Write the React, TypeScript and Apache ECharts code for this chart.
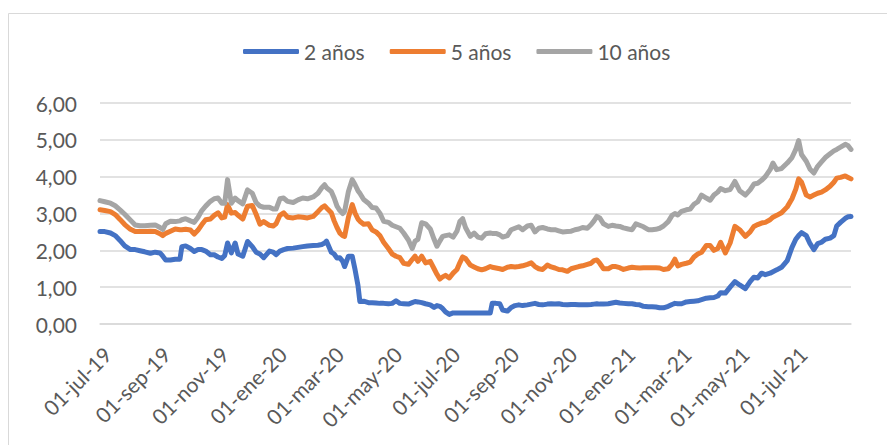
import React, { useEffect, useRef } from "react";
import * as echarts from "echarts";

// Series names
const seriesNames = ["2 años", "5 años", "10 años"];
const seriesColors = ["#4472C4", "#ED7D31", "#A5A5A5"];

// Axis range: daily dates from 01-jul-19, 790 days
const startDate = "2019-07-01";
const dayCount = 790;
const monthNames = ["ene", "feb", "mar", "abr", "may", "jun", "jul", "ago", "sep", "oct", "nov", "dic"];

// Y axis ticks
const yMin = 0;
const yMax = 6;
const yStep = 1;

// Sample positions (days since 01-jul-19)
const dayIndex = [
  0, 5, 11, 16, 21, 26, 32, 37, 42, 47, 53, 58, 63, 66, 69, 74, 79, 84, 86, 90,
  95, 99, 103, 107, 111, 116, 120, 124, 128, 131, 134, 138, 142, 145, 150, 155, 160, 164, 168, 172,
  178, 182, 185, 189, 193, 197, 203, 208, 213, 218, 224, 229, 233, 236, 238, 243, 246, 249, 252, 255,
  257, 261, 265, 268, 271, 273, 277, 282, 286, 290, 294, 298, 303, 307, 311, 315, 319, 324, 328, 331,
  334, 338, 342, 347, 351, 354, 357, 360, 363, 367, 371, 375, 378, 381, 384, 389, 393, 397, 401, 405,
  410, 412, 416, 420, 423, 428, 432, 436, 440, 444, 449, 453, 457, 461, 465, 470, 474, 478, 482, 486,
  491, 495, 499, 503, 507, 512, 516, 519, 522, 525, 529, 534, 538, 542, 546, 550, 555, 559, 563, 567,
  571, 576, 580, 584, 588, 592, 597, 601, 604, 607, 611, 616, 620, 624, 628, 632, 637, 641, 645, 649,
  652, 657, 662, 667, 672, 678, 683, 687, 691, 695, 699, 704, 707, 711, 716, 722, 727, 731, 734, 737,
  742, 746, 750, 754, 758, 762, 767, 771, 774, 778, 783, 786, 789,
];

const y2 = [
  2.51, 2.51, 2.47, 2.40, 2.27, 2.12, 2.02, 2.02, 1.99, 1.96, 1.92, 1.95, 1.93, 1.84, 1.74, 1.74, 1.76, 1.76, 2.10, 2.12,
  2.05, 1.97, 2.02, 2.02, 1.98, 1.88, 1.88, 1.82, 1.78, 1.86, 2.20, 1.93, 2.20, 1.90, 1.84, 2.24, 2.10, 1.95, 1.90, 1.80,
  1.98, 1.95, 1.88, 1.98, 2.02, 2.05, 2.06, 2.08, 2.10, 2.12, 2.13, 2.14, 2.16, 2.20, 2.25, 1.95, 1.90, 1.79, 1.80, 1.70,
  1.56, 1.84, 1.84, 1.47, 1.05, 0.61, 0.62, 0.58, 0.58, 0.57, 0.56, 0.56, 0.55, 0.56, 0.63, 0.56, 0.55, 0.54, 0.58, 0.61,
  0.60, 0.58, 0.55, 0.52, 0.45, 0.50, 0.48, 0.42, 0.33, 0.26, 0.30, 0.30, 0.30, 0.30, 0.30, 0.30, 0.30, 0.30, 0.30, 0.30,
  0.30, 0.56, 0.56, 0.55, 0.38, 0.35, 0.45, 0.50, 0.52, 0.50, 0.52, 0.54, 0.56, 0.53, 0.52, 0.54, 0.55, 0.54, 0.55, 0.53,
  0.52, 0.53, 0.53, 0.52, 0.52, 0.52, 0.53, 0.54, 0.55, 0.54, 0.54, 0.55, 0.57, 0.59, 0.57, 0.56, 0.55, 0.55, 0.53, 0.52,
  0.48, 0.47, 0.47, 0.46, 0.44, 0.44, 0.48, 0.53, 0.56, 0.55, 0.55, 0.60, 0.61, 0.62, 0.63, 0.66, 0.70, 0.71, 0.72, 0.76,
  0.85, 0.84, 1.00, 1.15, 1.06, 0.96, 1.15, 1.27, 1.25, 1.38, 1.34, 1.38, 1.42, 1.47, 1.54, 1.72, 2.08, 2.30, 2.40, 2.48,
  2.40, 2.18, 2.02, 2.18, 2.22, 2.30, 2.33, 2.40, 2.66, 2.76, 2.87, 2.91, 2.92,
];

const y5 = [
  3.10, 3.08, 3.05, 2.97, 2.84, 2.70, 2.57, 2.51, 2.51, 2.51, 2.52, 2.51, 2.45, 2.40, 2.46, 2.52, 2.58, 2.56, 2.56, 2.57,
  2.55, 2.44, 2.55, 2.70, 2.83, 2.85, 2.95, 3.02, 2.88, 2.90, 3.24, 3.01, 3.03, 2.95, 2.85, 3.20, 3.22, 2.98, 2.71, 2.78,
  2.68, 2.66, 2.72, 2.95, 3.02, 2.90, 2.88, 2.91, 2.90, 2.88, 2.92, 3.05, 3.16, 3.21, 3.15, 3.02, 2.80, 2.62, 2.47, 2.40,
  2.38, 2.90, 3.24, 3.01, 2.85, 2.79, 2.71, 2.72, 2.55, 2.50, 2.40, 2.22, 2.05, 1.90, 1.84, 1.80, 1.65, 1.62, 1.75, 1.84,
  1.70, 1.84, 1.66, 1.70, 1.50, 1.35, 1.22, 1.28, 1.32, 1.25, 1.38, 1.48, 1.66, 1.82, 1.78, 1.60, 1.55, 1.50, 1.47, 1.50,
  1.56, 1.54, 1.52, 1.50, 1.48, 1.54, 1.56, 1.55, 1.56, 1.58, 1.62, 1.66, 1.56, 1.50, 1.48, 1.60, 1.55, 1.52, 1.48, 1.47,
  1.43, 1.50, 1.53, 1.56, 1.58, 1.62, 1.65, 1.72, 1.74, 1.65, 1.50, 1.50, 1.56, 1.56, 1.53, 1.48, 1.52, 1.54, 1.53, 1.52,
  1.53, 1.53, 1.53, 1.53, 1.52, 1.48, 1.50, 1.62, 1.76, 1.58, 1.62, 1.65, 1.68, 1.82, 1.90, 1.95, 2.13, 2.13, 2.00, 2.05,
  2.22, 1.93, 2.20, 2.65, 2.56, 2.38, 2.50, 2.65, 2.70, 2.74, 2.76, 2.83, 2.90, 2.95, 3.02, 3.18, 3.40, 3.66, 3.94, 3.85,
  3.50, 3.45, 3.50, 3.55, 3.58, 3.64, 3.74, 3.85, 3.96, 3.98, 4.02, 3.98, 3.94,
];

const y10 = [
  3.35, 3.32, 3.28, 3.21, 3.10, 2.98, 2.82, 2.69, 2.67, 2.67, 2.68, 2.69, 2.62, 2.57, 2.72, 2.79, 2.78, 2.80, 2.83, 2.86,
  2.80, 2.76, 2.90, 3.08, 3.20, 3.33, 3.40, 3.42, 3.28, 3.28, 3.92, 3.28, 3.42, 3.35, 3.26, 3.64, 3.55, 3.30, 3.20, 3.17,
  3.17, 3.12, 3.12, 3.40, 3.42, 3.33, 3.30, 3.37, 3.42, 3.40, 3.45, 3.55, 3.70, 3.78, 3.70, 3.60, 3.42, 3.20, 3.08, 3.00,
  3.06, 3.60, 3.92, 3.78, 3.62, 3.55, 3.38, 3.28, 3.16, 3.15, 3.01, 2.79, 2.76, 2.68, 2.64, 2.60, 2.47, 2.28, 2.05, 2.25,
  2.30, 2.75, 2.72, 2.58, 2.30, 2.11, 2.25, 2.38, 2.40, 2.42, 2.36, 2.52, 2.78, 2.86, 2.62, 2.38, 2.47, 2.36, 2.33, 2.45,
  2.47, 2.46, 2.46, 2.42, 2.36, 2.40, 2.56, 2.60, 2.64, 2.56, 2.66, 2.68, 2.50, 2.60, 2.62, 2.58, 2.56, 2.56, 2.53, 2.50,
  2.51, 2.52, 2.56, 2.58, 2.62, 2.60, 2.70, 2.80, 2.92, 2.88, 2.72, 2.65, 2.68, 2.66, 2.65, 2.61, 2.58, 2.56, 2.72, 2.68,
  2.64, 2.56, 2.56, 2.57, 2.60, 2.66, 2.78, 2.95, 3.00, 2.96, 3.06, 3.10, 3.12, 3.25, 3.32, 3.50, 3.42, 3.36, 3.50, 3.58,
  3.68, 3.62, 3.65, 3.87, 3.62, 3.50, 3.64, 3.80, 3.82, 3.90, 4.00, 4.19, 4.37, 4.19, 4.22, 4.37, 4.52, 4.74, 4.98, 4.60,
  4.42, 4.20, 4.10, 4.28, 4.40, 4.52, 4.62, 4.70, 4.74, 4.80, 4.88, 4.84, 4.74,
];

const seriesValues = [y2, y5, y10];

function buildDates(): Date[] {
  const [yy, mm, dd] = startDate.split("-").map(Number);
  const base = Date.UTC(yy, mm - 1, dd);
  const out: Date[] = [];
  for (let i = 0; i < dayCount; i++) out.push(new Date(base + i * 86400000));
  return out;
}

function fmtDate(d: Date): string {
  const day = String(d.getUTCDate()).padStart(2, "0");
  const yr = String(d.getUTCFullYear() % 100).padStart(2, "0");
  return `${day}-${monthNames[d.getUTCMonth()]}-${yr}`;
}

export default function App() {
  const ref = useRef<HTMLDivElement>(null);

  useEffect(() => {
    document.body.style.margin = "0";
    if (!ref.current) return;
    const chart = echarts.init(ref.current, undefined, { renderer: "svg" });
    const dates = buildDates();
    const categories = dates.map(fmtDate);
    const textColor = "#595959";
    const font = "Lato, 'Open Sans', sans-serif";

    const option: any = {
      animation: false,
      backgroundColor: "#ffffff",
      textStyle: { fontFamily: font },
      graphic: [
        {
          type: "rect",
          silent: true,
          z: -10,
          shape: { x: 8.5, y: 13.5, width: 1000, height: 600 },
          style: { fill: "none", stroke: "#d9d9d9", lineWidth: 1 },
        },
      ],
      legend: {
        data: seriesNames,
        left: 243,
        top: 41,
        padding: 0,
        itemWidth: 56,
        itemHeight: 5,
        itemGap: 25,
        icon: "roundRect",
        textStyle: { fontSize: 21, color: textColor, fontFamily: font },
      },
      grid: { left: 100, right: 36, top: 103, bottom: 121 },
      xAxis: {
        type: "category",
        data: categories,
        boundaryGap: false,
        axisLine: { show: true, lineStyle: { color: "#d9d9d9", width: 1.5 } },
        axisTick: { show: false },
        splitLine: { show: false },
        axisLabel: {
          interval: (index: number) => {
            const d = dates[index];
            return d.getUTCDate() === 1 && d.getUTCMonth() % 2 === 0;
          },
          rotate: 45,
          margin: 19,
          verticalAlign: "top",
          fontSize: 21,
          color: textColor,
          fontFamily: font,
        },
      },
      yAxis: {
        type: "value",
        min: yMin,
        max: yMax,
        interval: yStep,
        axisLine: { show: false },
        axisTick: { show: false },
        axisLabel: {
          margin: 23,
          fontSize: 21,
          color: textColor,
          fontFamily: font,
          formatter: (v: number) => v.toFixed(2).replace(".", ","),
        },
        splitLine: { lineStyle: { color: "#d9d9d9", width: 1.5 } },
      },
      series: seriesNames.map((name, si) => ({
        name,
        type: "line",
        showSymbol: false,
        symbol: "none",
        color: seriesColors[si],
        lineStyle: { width: 5, color: seriesColors[si], cap: "round", join: "round" },
        data: dayIndex.map((d, i) => [d, seriesValues[si][i]]),
      })),
    };

    chart.setOption(option);
    return () => chart.dispose();
  }, []);

  return <div ref={ref} style={{ width: 887, height: 445 }} />;
}
